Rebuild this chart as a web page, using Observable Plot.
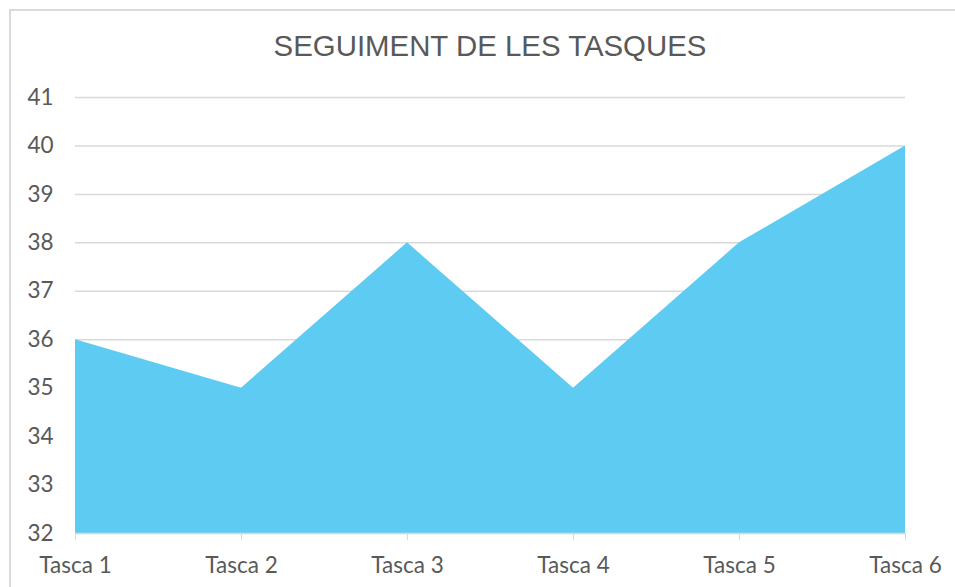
<!DOCTYPE html>
<html>
<head>
<meta charset="utf-8">
<script src="https://cdn.jsdelivr.net/npm/d3@7"></script>
<script src="https://cdn.jsdelivr.net/npm/@observablehq/plot@0.6"></script>
<style>
  html, body { margin: 0; padding: 0; background: #fff; }
  #page { position: relative; width: 955px; height: 587px; overflow: hidden; background: #fff; }
  #frame { position: absolute; left: 9px; top: 9px; width: 1000px; height: 1000px;
           border-left: 2px solid #d9d9d9; border-top: 2px solid #d9d9d9; box-sizing: border-box; }
  #title { position: relative; height: 80px; box-sizing: border-box; padding-top: 30px;
           width: 980px; text-align: center; font-family: "Liberation Sans", Arial, sans-serif;
           font-size: 29.4px; line-height: 32px; color: #595959; }
  #chart { position: relative; }
</style>
</head>
<body>
<div id="page">
  <div id="frame"></div>
  <div id="title">SEGUIMENT DE LES TASQUES</div>
  <div id="chart"></div>
</div>
<script>
const tasks = ["Tasca 1", "Tasca 2", "Tasca 3", "Tasca 4", "Tasca 5", "Tasca 6"];
const values = [36, 35, 38, 35, 38, 40];
const yTicks = [32, 33, 34, 35, 36, 37, 38, 39, 40, 41];

const data = tasks.map((t, i) => ({task: t, value: values[i]}));

const chart = Plot.plot({
  width: 955,
  height: 507,
  marginTop: 17,
  marginBottom: 54,
  marginLeft: 75,
  marginRight: 50,
  style: {fontFamily: "Lato, sans-serif", fontSize: "22.5px", color: "#595959", background: "transparent", overflow: "visible"},
  x: {type: "point", domain: tasks, padding: 0, label: null},
  y: {domain: [32, 41], label: null},
  marks: [
    Plot.gridY(yTicks, {stroke: "#d9d9d9", strokeOpacity: 1, strokeWidth: 1.5}),
    Plot.areaY(data, {x: "task", y1: 32, y2: "value", fill: "#5ecbf2"}),
    Plot.ruleY([32], {stroke: "#d9d9d9", strokeWidth: 1.5}),
    Plot.axisX({tickSize: 7, tickPadding: 17, stroke: "#d9d9d9", strokeOpacity: 1, fill: "#595959", label: null}),
    Plot.axisY(yTicks, {tickSize: 0, tickPadding: 22, fill: "#595959", label: null})
  ]
});
document.getElementById("chart").appendChild(chart);
</script>
</body>
</html>
